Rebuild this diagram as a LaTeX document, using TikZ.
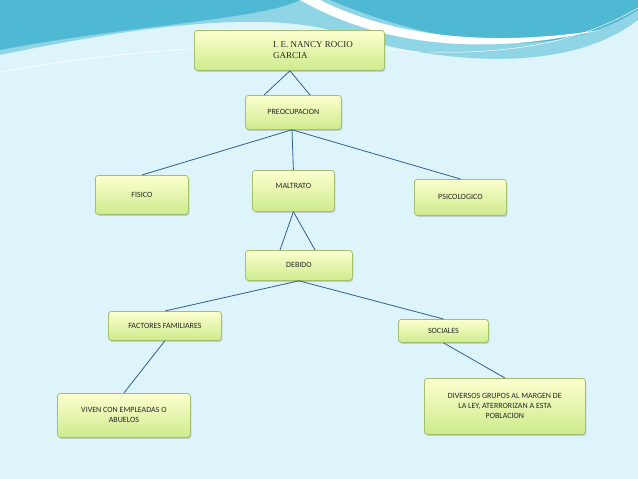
\documentclass[tikz,border=0pt]{standalone}
\usepackage{fontspec}
\setmainfont{Carlito}
\newfontfamily\serifa{Liberation Serif}
\usetikzlibrary{shadows}
\definecolor{bg}{HTML}{DDF4FA}
\definecolor{teal1}{HTML}{4FB8D2}
\definecolor{teal2}{HTML}{8FD5E6}
\definecolor{edge}{HTML}{2F5F8C}
\definecolor{bord}{HTML}{A6BF6E}
\tikzset{
  box/.style={draw=bord, line width=0.8pt, rounded corners=3pt, top color=white!60!green!10!yellow!20, bottom color={rgb,255:red,205;green,235;blue,140},
    drop shadow={shadow xshift=1pt,shadow yshift=-1.5pt,fill=black!35}, font=\fontsize{8}{10}\selectfont, text=black!85, inner sep=2pt},
  con/.style={draw=edge, line width=0.8pt}
}
\begin{document}
\begin{tikzpicture}[x=1pt,y=-1pt]
\useasboundingbox (0,0) rectangle (638,479);
\fill[bg] (0,0) rectangle (638,479);
% wave
\fill[teal2] (0,0) -- (638,0) -- (638,20) .. controls (560,80) and (420,60) .. (330,30) .. controls (250,10) and (120,30) .. (0,55) -- cycle;
\fill[teal1] (0,0) -- (300,0) .. controls (260,20) and (130,25) .. (0,50) -- cycle;
\fill[teal1] (330,0) -- (638,0) -- (638,10) .. controls (560,60) and (450,50) .. (330,0) -- cycle;
\fill[white] (300,0) .. controls (370,40) and (470,60) .. (600,30) .. controls (470,50) and (380,30) .. (320,0) -- cycle;
\draw[white, line width=0.6pt] (0,72) .. controls (150,45) and (300,40) .. (420,52);
\draw[white, line width=0.5pt] (430,52) .. controls (540,55) and (600,30) .. (638,8);
% nodes
\node[box, minimum width=190, minimum height=40, anchor=north west, font=\serifa\fontsize{9}{11}\selectfont] (top) at (194,30) {\hspace*{47pt}\begin{tabular}{@{}l@{}}I. E. NANCY ROCIO\\GARCIA\end{tabular}};
\node[box, minimum width=96, minimum height=34, anchor=north west] (pre) at (245,95) {PREOCUPACION};
\node[box, minimum width=93, minimum height=39, anchor=north west] (fis) at (95,175) {FISICO};
\node[box, minimum width=82, minimum height=41, anchor=north west, text depth=10pt] (mal) at (252,170) {MALTRATO};
\node[box, minimum width=92, minimum height=36, anchor=north west] (psi) at (414,179) {PSICOLOGICO};
\node[box, minimum width=107, minimum height=30, anchor=north west] (deb) at (245,250) {DEBIDO};
\node[box, minimum width=113, minimum height=29, anchor=north west] (fac) at (108,311) {FACTORES FAMILIARES};
\node[box, minimum width=90, minimum height=23, anchor=north west] (soc) at (398,319) {SOCIALES};
\node[box, minimum width=133, minimum height=44, anchor=north west, align=center] (viv) at (57,393) {VIVEN CON EMPLEADAS O\\ABUELOS};
\node[box, minimum width=161, minimum height=56, anchor=north west, align=center] (div) at (424,378) {DIVERSOS GRUPOS AL MARGEN DE\\LA LEY, ATERRORIZAN A ESTA\\POBLACION};
% connectors
\coordinate (a) at (290,70);
\draw[con] (top.south -| a) -- (pre.north -| 264,0);
\draw[con] (top.south -| a) -- (pre.north -| 310,0);
\coordinate (b) at (292,129);
\draw[con] (pre.south -| b) -- (fis.north);
\draw[con] (pre.south -| b) -- (mal.north);
\draw[con] (pre.south -| b) -- (psi.north);
\draw[con] (mal.south) -- (deb.north -| 280,0);
\draw[con] (mal.south) -- (deb.north -| 315,0);
\draw[con] (deb.south) -- (fac.north);
\draw[con] (deb.south) -- (soc.north);
\draw[con] (fac.south) -- (viv.north);
\draw[con] (soc.south) -- (div.north);
\end{tikzpicture}
\end{document}
